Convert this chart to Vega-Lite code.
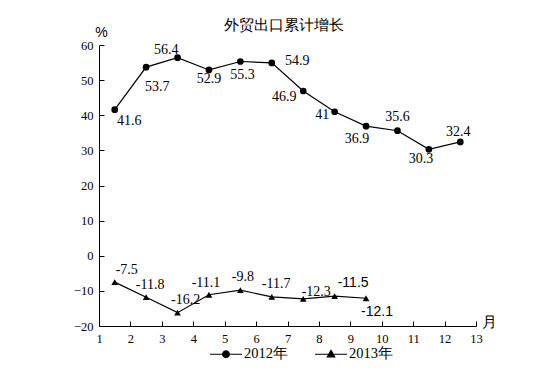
{
  "$schema": "https://vega.github.io/schema/vega-lite/v6.json",
  "autosize": {"type": "none"},
  "padding": {"left": 99, "top": 45, "right": 77, "bottom": 65},
  "width": 377,
  "height": 281,
  "background": "white",
  "title": {"text": "外贸出口累计增长", "font": "Liberation Serif", "fontSize": 15, "fontWeight": "normal", "color": "black", "anchor": "middle", "frame": "group", "offset": -8, "dx": -4},
  "data": {"values": [
    {"s": "2012年", "m": 1.5, "v": 41.6},
    {"s": "2012年", "m": 2.5, "v": 53.7},
    {"s": "2012年", "m": 3.5, "v": 56.4},
    {"s": "2012年", "m": 4.5, "v": 52.9},
    {"s": "2012年", "m": 5.5, "v": 55.3},
    {"s": "2012年", "m": 6.5, "v": 54.9},
    {"s": "2012年", "m": 7.5, "v": 46.9},
    {"s": "2012年", "m": 8.5, "v": 41},
    {"s": "2012年", "m": 9.5, "v": 36.9},
    {"s": "2012年", "m": 10.5, "v": 35.6},
    {"s": "2012年", "m": 11.5, "v": 30.3},
    {"s": "2012年", "m": 12.5, "v": 32.4},
    {"s": "2013年", "m": 1.5, "v": -7.5},
    {"s": "2013年", "m": 2.5, "v": -11.8},
    {"s": "2013年", "m": 3.5, "v": -16.2},
    {"s": "2013年", "m": 4.5, "v": -11.1},
    {"s": "2013年", "m": 5.5, "v": -9.8},
    {"s": "2013年", "m": 6.5, "v": -11.7},
    {"s": "2013年", "m": 7.5, "v": -12.3},
    {"s": "2013年", "m": 8.5, "v": -11.5},
    {"s": "2013年", "m": 9.5, "v": -12.1}
  ]},
  "encoding": {
    "x": {"field": "m", "type": "quantitative", "scale": {"domain": [1, 13], "nice": false, "zero": false},
      "axis": {"values": [1,2,3,4,5,6,7,8,9,10,11,12,13], "title": "月", "titleFont": "Liberation Serif", "titleFontSize": 15, "titleFontWeight": "normal", "titleX": 390, "titleY": -5, "titleAlign": "center", "titleBaseline": "middle", "titleAngle": 0}},
    "y": {"field": "v", "type": "quantitative", "scale": {"domain": [-20, 60], "nice": false, "zero": false},
      "axis": {"values": [-20,-10,0,10,20,30,40,50,60], "title": "%", "titleFont": "Liberation Sans", "titleFontSize": 14, "titleFontWeight": "normal", "titleX": 2, "titleY": -13, "titleAlign": "center", "titleBaseline": "middle", "titleAngle": 0}}
  },
  "layer": [
    {"mark": {"type": "line", "color": "black", "strokeWidth": 1.2}, "encoding": {"detail": {"field": "s"}}},
    {"mark": {"type": "point", "filled": true, "color": "black", "opacity": 1, "size": 45},
      "encoding": {"shape": {"condition": {"test": "datum.s == '2012年'", "value": "circle"}, "value": "triangle-up"}}},
    {"transform": [{"filter": "false"}],
      "mark": {"type": "point", "filled": false, "stroke": "black", "fill": "black", "strokeWidth": 1.2, "opacity": 1},
      "encoding": {"shape": {"field": "s", "type": "nominal",
        "scale": {"domain": ["2012年", "2013年"], "range": ["M-1,0H1M-0.21,0A0.21,0.21,0,1,0,0.21,0A0.21,0.21,0,1,0,-0.21,0Z", "M-1,0H1M0,-0.24L0.23,0.16L-0.23,0.16Z"]},
        "legend": {"orient": "none", "legendX": 110, "legendY": 292, "direction": "horizontal", "title": null,
          "labelFont": "Liberation Serif", "labelFontSize": 14.5, "labelColor": "black", "symbolSize": 1024, "labelOffset": 1, "columnPadding": 24,
          "symbolStrokeWidth": 1.2, "symbolOpacity": 1}}}},
    {"transform": [{"filter": "datum.s == '2012年' && datum.m == 1.5"}], "mark": {"type": "text", "dx": 14.5, "dy": 11.5}, "encoding": {"text": {"field": "v", "type": "nominal"}}},
    {"transform": [{"filter": "datum.s == '2012年' && datum.m == 2.5"}], "mark": {"type": "text", "dx": 11, "dy": 19.6}, "encoding": {"text": {"field": "v", "type": "nominal"}}},
    {"transform": [{"filter": "datum.s == '2012年' && datum.m == 3.5"}], "mark": {"type": "text", "dx": -11.4, "dy": -7.6}, "encoding": {"text": {"field": "v", "type": "nominal"}}},
    {"transform": [{"filter": "datum.s == '2012年' && datum.m == 4.5"}], "mark": {"type": "text", "dx": 0, "dy": 9.5}, "encoding": {"text": {"field": "v", "type": "nominal"}}},
    {"transform": [{"filter": "datum.s == '2012年' && datum.m == 5.5"}], "mark": {"type": "text", "dx": 2, "dy": 13.5}, "encoding": {"text": {"field": "v", "type": "nominal"}}},
    {"transform": [{"filter": "datum.s == '2012年' && datum.m == 6.5"}], "mark": {"type": "text", "dx": 25.5, "dy": -2}, "encoding": {"text": {"field": "v", "type": "nominal"}}},
    {"transform": [{"filter": "datum.s == '2012年' && datum.m == 7.5"}], "mark": {"type": "text", "dx": -19, "dy": 5.7}, "encoding": {"text": {"field": "v", "type": "nominal"}}},
    {"transform": [{"filter": "datum.s == '2012年' && datum.m == 8.5"}], "mark": {"type": "text", "dx": -12.5, "dy": 3}, "encoding": {"text": {"field": "v", "type": "nominal"}}},
    {"transform": [{"filter": "datum.s == '2012年' && datum.m == 9.5"}], "mark": {"type": "text", "dx": -9, "dy": 13.3}, "encoding": {"text": {"field": "v", "type": "nominal"}}},
    {"transform": [{"filter": "datum.s == '2012年' && datum.m == 10.5"}], "mark": {"type": "text", "dx": 0, "dy": -14}, "encoding": {"text": {"field": "v", "type": "nominal"}}},
    {"transform": [{"filter": "datum.s == '2012年' && datum.m == 11.5"}], "mark": {"type": "text", "dx": -8, "dy": 10}, "encoding": {"text": {"field": "v", "type": "nominal"}}},
    {"transform": [{"filter": "datum.s == '2012年' && datum.m == 12.5"}], "mark": {"type": "text", "dx": -2, "dy": -10}, "encoding": {"text": {"field": "v", "type": "nominal"}}},
    {"transform": [{"filter": "datum.s == '2013年' && datum.m == 1.5"}], "mark": {"type": "text", "dx": 12, "dy": -12}, "encoding": {"text": {"field": "v", "type": "nominal"}}},
    {"transform": [{"filter": "datum.s == '2013年' && datum.m == 2.5"}], "mark": {"type": "text", "dx": 4, "dy": -12}, "encoding": {"text": {"field": "v", "type": "nominal"}}},
    {"transform": [{"filter": "datum.s == '2013年' && datum.m == 3.5"}], "mark": {"type": "text", "dx": 8, "dy": -12.4}, "encoding": {"text": {"field": "v", "type": "nominal"}}},
    {"transform": [{"filter": "datum.s == '2013年' && datum.m == 4.5"}], "mark": {"type": "text", "dx": -3, "dy": -11.3}, "encoding": {"text": {"field": "v", "type": "nominal"}}},
    {"transform": [{"filter": "datum.s == '2013年' && datum.m == 5.5"}], "mark": {"type": "text", "dx": 2.5, "dy": -13.3}, "encoding": {"text": {"field": "v", "type": "nominal"}}},
    {"transform": [{"filter": "datum.s == '2013年' && datum.m == 6.5"}], "mark": {"type": "text", "dx": 4.4, "dy": -13.3}, "encoding": {"text": {"field": "v", "type": "nominal"}}},
    {"transform": [{"filter": "datum.s == '2013年' && datum.m == 7.5"}], "mark": {"type": "text", "dx": 13, "dy": -7}, "encoding": {"text": {"field": "v", "type": "nominal"}}},
    {"transform": [{"filter": "datum.s == '2013年' && datum.m == 8.5"}], "mark": {"type": "text", "dx": 18.5, "dy": -13.6, "font": "Liberation Sans", "fontSize": 14}, "encoding": {"text": {"field": "v", "type": "nominal"}}},
    {"transform": [{"filter": "datum.s == '2013年' && datum.m == 9.5"}], "mark": {"type": "text", "dx": 11, "dy": 13.8, "font": "Liberation Sans", "fontSize": 14}, "encoding": {"text": {"field": "v", "type": "nominal"}}}
  ],
  "config": {
    "view": {"stroke": null},
    "text": {"font": "Liberation Serif", "fontSize": 14, "color": "black", "align": "center", "baseline": "middle"},
    "axis": {"grid": false, "domainColor": "black", "domainWidth": 1, "tickColor": "black", "tickWidth": 1, "tickSize": -5, "labelPadding": 11,
      "labelFont": "Liberation Serif", "labelFontSize": 12.5, "labelColor": "black", "titleColor": "black", "labelFlush": false, "labelOverlap": false}
  }
}
